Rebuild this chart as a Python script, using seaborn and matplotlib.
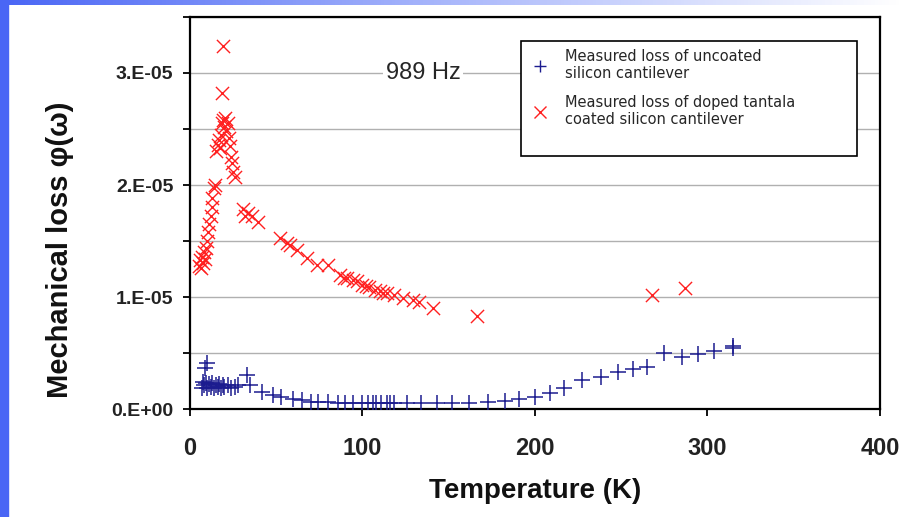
import numpy as np
import pandas as pd
import matplotlib
matplotlib.use("Agg")
import matplotlib.pyplot as plt
from matplotlib.patches import Rectangle
from matplotlib.ticker import FixedLocator, FuncFormatter
from matplotlib.lines import Line2D
from matplotlib.colors import LinearSegmentedColormap
import seaborn as sns

# ---------------- data (values in units of 1e-5) ----------------
coated_T = [5, 6, 6.5, 7, 7.5, 8, 8.5, 9, 10, 10.5, 11, 12, 12.5, 13, 14, 14.5,
            15, 16, 17, 17.5, 18, 18.5, 19, 20, 20.5, 21, 22, 22.5, 23, 24, 24.5,
            25, 26, 19.3, 18.4,
            30.7, 32, 33.7, 36, 39.6, 52, 56, 58, 62, 67.6, 73.4, 80, 87, 89, 91,
            94.5, 97, 100, 102, 104, 107, 110, 112, 114, 118, 123.5, 129, 133,
            141, 166.5, 268, 287]
coated_loss = [1.28, 1.33, 1.26, 1.36, 1.30, 1.40, 1.34, 1.44, 1.50, 1.58, 1.65,
               1.72, 1.80, 1.88, 1.97, 2.00,
               2.30, 2.36, 2.40, 2.33, 2.45, 2.55, 2.58, 2.52, 2.60, 2.48, 2.55,
               2.42, 2.35, 2.25, 2.20, 2.12, 2.07, 3.24, 2.82,
               1.79, 1.72, 1.75, 1.72, 1.67, 1.53, 1.48, 1.46, 1.42, 1.35, 1.29,
               1.29, 1.20, 1.17, 1.17, 1.15, 1.14, 1.11, 1.10, 1.09, 1.06, 1.05,
               1.04, 1.04, 1.02, 0.99, 0.97, 0.955, 0.90, 0.83, 1.02, 1.08]

uncoated_T = [7, 7.5, 8, 8.7, 9.7, 9, 10, 11, 12, 13, 14, 15, 16, 17, 18, 19,
              20, 22, 24, 26, 28, 33, 35, 42, 48, 53, 60, 65, 70, 74, 80, 86,
              90, 94.6, 99.6, 103, 106, 108, 111, 114, 116, 118, 125.6, 134, 143,
              152, 162, 173, 182.6, 191, 200, 208.7, 217, 227, 238, 248, 257,
              265, 275, 285, 294.5, 304, 314.6, 315]
uncoated_loss = [0.19, 0.24, 0.21, 0.37, 0.41, 0.23, 0.19, 0.22, 0.20, 0.23,
                 0.19, 0.21, 0.20, 0.22, 0.19, 0.21, 0.20, 0.21, 0.19, 0.20,
                 0.21, 0.30, 0.21, 0.15, 0.125, 0.11, 0.09, 0.08, 0.065, 0.065,
                 0.065, 0.055, 0.05, 0.05, 0.05, 0.05, 0.05, 0.05, 0.05, 0.05,
                 0.05, 0.05, 0.05, 0.05, 0.05, 0.05, 0.05, 0.06, 0.07, 0.09,
                 0.11, 0.145, 0.19, 0.26, 0.29, 0.33, 0.36, 0.375, 0.50, 0.46,
                 0.49, 0.52, 0.565, 0.545]

x_ticks = [0, 100, 200, 300, 400]
y_ticks_labeled = [0, 1e-5, 2e-5, 3e-5]
y_tick_labels = ["0.E+00", "1.E-05", "2.E-05", "3.E-05"]
label_uncoated = "Measured loss of uncoated\nsilicon cantilever"
label_coated = "Measured loss of doped tantala\ncoated silicon cantilever"
annotation = "989 Hz"

df_c = pd.DataFrame({"T": coated_T, "loss": np.array(coated_loss) * 1e-5})
df_u = pd.DataFrame({"T": uncoated_T, "loss": np.array(uncoated_loss) * 1e-5})

# ---------------- styling ----------------
sns.set_style("white")
plt.rcParams["font.family"] = ["Liberation Sans", "DejaVu Sans"]

W, H = 903, 517
fig = plt.figure(figsize=(W / 100, H / 100), dpi=100)
fig.patch.set_facecolor("white")

# decorative slide borders
fig.patches.append(Rectangle((0, 0), 8 / W, 1, transform=fig.transFigure,
                             color="#4a66f5", zorder=0))
gax = fig.add_axes([0, 1 - 5 / H, 1, 5 / H])
grad = np.linspace(0, 1, 256)[None, :]
cmap = LinearSegmentedColormap.from_list("g", ["#4a66f5", "#aab8fb", "#ffffff"])
gax.imshow(grad, aspect="auto", cmap=cmap, extent=[0, 1, 0, 1])
gax.axis("off")

ax = fig.add_axes([190 / W, (H - 409) / H, 690 / W, (409 - 17) / H])

BLUE = "#1c1c8f"
RED = "#ff2020"
sns.scatterplot(data=df_u, x="T", y="loss", marker="+", color=BLUE, s=120,
                linewidth=1.1, ax=ax, zorder=3, legend=False)
sns.scatterplot(data=df_c, x="T", y="loss", marker="x", color=RED, s=90,
                linewidth=1.0, ax=ax, zorder=3, legend=False)

ax.set_xlim(0, 400)
ax.set_ylim(0, 3.5e-5)
ax.xaxis.set_major_locator(FixedLocator(x_ticks))
ax.yaxis.set_major_locator(FixedLocator(np.arange(0, 3.51e-5, 0.5e-5)))

lab_map = {round(v * 1e6): l for v, l in zip(y_ticks_labeled, y_tick_labels)}
def yfmt(v, pos):
    return lab_map.get(round(v * 1e6), "") if abs(v * 1e5 - round(v * 1e5)) < 1e-6 else ""
ax.yaxis.set_major_formatter(FuncFormatter(yfmt))

ax.grid(axis="y", color="#b0b0b0", linewidth=1.0)
ax.set_axisbelow(True)
for sp in ax.spines.values():
    sp.set_visible(True)
    sp.set_color("black")
    sp.set_linewidth(1.6)

ax.tick_params(axis="both", direction="out", length=5, width=1.3, color="black",
               left=True, bottom=True)
for t in ax.get_xticklabels():
    t.set_fontweight("bold")
    t.set_fontsize(17)
    t.set_color("#222222")
for t in ax.get_yticklabels():
    t.set_fontweight("bold")
    t.set_fontsize(14)
    t.set_color("#222222")
ax.tick_params(axis="x", pad=15)
ax.tick_params(axis="y", pad=7)

ax.set_xlabel("Temperature (K)", fontsize=20, fontweight="bold", color="#111111")
ax.xaxis.set_label_coords(0.5, -0.176)
ax.set_ylabel("Mechanical loss \u03c6(\u03c9)", fontsize=21, fontweight="bold",
              color="#111111")
ax.yaxis.set_label_coords(-0.168, 0.405)

ax.text(0.338, 0.858, annotation, transform=ax.transAxes, fontsize=17,
        ha="center", va="center", zorder=4,
        bbox=dict(facecolor="white", edgecolor="none", pad=2))

# legend box
ax.add_patch(Rectangle((0.4797, 0.6454), 0.487, 0.2934, transform=ax.transAxes,
                       facecolor="white", edgecolor="black", linewidth=1.2,
                       zorder=5))
handles = [Line2D([], [], linestyle="none", marker="+", color=BLUE,
                  markersize=9, markeredgewidth=1.0),
           Line2D([], [], linestyle="none", marker="x", color=RED,
                  markersize=8, markeredgewidth=1.0)]
leg = ax.legend(handles, [label_uncoated, label_coated], loc="upper left",
                bbox_to_anchor=(0.478, 0.948), frameon=False,
                prop={"family": "DejaVu Sans", "size": 10.5},
                handlelength=1.2, handletextpad=1.1, labelspacing=0.9,
                borderpad=0.3)
leg.set_zorder(6)

fig.savefig("out.png", dpi=100)
